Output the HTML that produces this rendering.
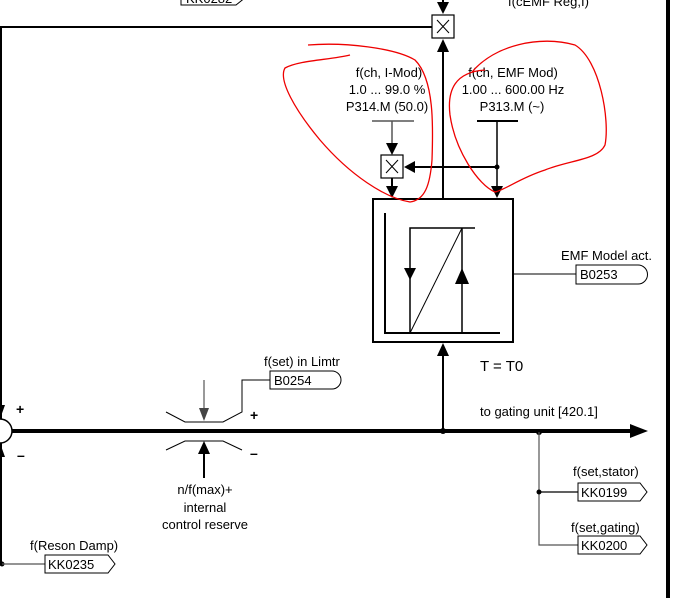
<!DOCTYPE html>
<html><head><meta charset="utf-8"><style>
html,body{margin:0;padding:0;background:#fff;width:694px;height:598px;overflow:hidden}
svg text{font-family:"Liberation Sans",Arial,sans-serif;fill:#000}
</style></head><body>
<svg width="694" height="598" viewBox="0 0 694 598" xmlns="http://www.w3.org/2000/svg">
<rect x="666" y="0" width="4" height="598" fill="#000"/>
<path d="M181,-8 V5 H236 L246,-3" fill="none" stroke="#000" stroke-width="1"/>
<text x="186" y="3" font-size="13">KK0282</text>
<text x="508" y="6" font-size="13">f(cEMF Reg,I)</text>
<line x1="443" y1="0" x2="443" y2="6" stroke="#000" stroke-width="2"/>
<path d="M437,2 L449,2 L443,14z" fill="#000"/>
<rect x="432" y="15" width="22" height="23" fill="#fff" stroke="#000" stroke-width="1.2"/>
<path d="M437,20 L449,33 M449,20 L437,33" stroke="#000" stroke-width="1"/>
<path d="M432,27 H1 V565" fill="none" stroke="#000" stroke-width="2"/>
<line x1="443" y1="198" x2="443" y2="50" stroke="#000" stroke-width="2"/>
<path d="M437,52 L449,52 L443,39z" fill="#000"/>
<g font-size="13" text-anchor="middle">
<text x="389" y="77">f(ch, I-Mod)</text>
<text x="387" y="94">1.0 ... 99.0 %</text>
<text x="387" y="111">P314.M (50.0)</text>
<text x="513" y="77">f(ch, EMF Mod)</text>
<text x="513" y="94">1.00 ... 600.00 Hz</text>
<text x="512" y="111">P313.M (~)</text>
</g>
<line x1="372" y1="121" x2="414" y2="121" stroke="#555" stroke-width="1.5"/>
<line x1="392" y1="121" x2="392" y2="145" stroke="#555" stroke-width="1.5"/>
<path d="M386,143 L398,143 L392,155z" fill="#000"/>
<rect x="381" y="155" width="22" height="23" fill="#fff" stroke="#000" stroke-width="1.2"/>
<path d="M386,160 L398,173 M398,160 L386,173" stroke="#000" stroke-width="1"/>
<line x1="392" y1="178" x2="392" y2="188" stroke="#000" stroke-width="2"/>
<path d="M386,186 L398,186 L392,198z" fill="#000"/>
<line x1="477" y1="121" x2="518" y2="121" stroke="#000" stroke-width="2"/>
<line x1="497" y1="121" x2="497" y2="188" stroke="#000" stroke-width="1.5"/>
<path d="M491,186 L503,186 L497,198z" fill="#000"/>
<line x1="497" y1="167" x2="414" y2="167" stroke="#000" stroke-width="2"/>
<path d="M415,161 L415,173 L404,167z" fill="#000"/>
<circle cx="497" cy="167" r="2.5" fill="#000"/>
<rect x="373" y="199" width="140" height="143" fill="#fff" stroke="#000" stroke-width="2"/>
<path d="M385,213 V333 H500" fill="none" stroke="#000" stroke-width="2"/>
<path d="M410,333 V228 H475" fill="none" stroke="#000" stroke-width="1.5"/>
<line x1="410" y1="333" x2="462" y2="228" stroke="#000" stroke-width="1"/>
<line x1="462" y1="228" x2="462" y2="333" stroke="#000" stroke-width="1.5"/>
<path d="M404,268 L416,268 L410,280z" fill="#000"/>
<path d="M455,284 L469,284 L462,268z" fill="#000"/>
<line x1="513" y1="274" x2="576" y2="274" stroke="#000" stroke-width="1"/>
<path d="M576,265 H638 A9,9 0 0 1 638,284 H576z" fill="#fff" stroke="#000" stroke-width="1"/>
<text x="580" y="279" font-size="13">B0253</text>
<text x="561" y="260" font-size="13">EMF Model act.</text>
<line x1="443" y1="432" x2="443" y2="354" stroke="#000" stroke-width="2"/>
<path d="M437,356 L449,356 L443,343z" fill="#000"/>
<text x="480" y="371" font-size="15">T = T0</text>
<line x1="12" y1="431" x2="632" y2="431" stroke="#000" stroke-width="4"/>
<path d="M630,424 L648,431 L630,438z" fill="#000"/>
<circle cx="443" cy="431" r="3" fill="#000"/>
<circle cx="0" cy="431" r="12" fill="#fff" stroke="#000" stroke-width="1.5"/>
<path d="M-5,405 L5,405 L0,419z" fill="#000"/>
<path d="M-5,457 L5,457 L0,443z" fill="#000"/>
<text x="16" y="414" font-size="14" font-weight="bold">+</text>
<text x="17" y="460" font-size="14" font-weight="bold">–</text>
<path d="M166,412 L185,422 H223 L242,412 V380 H270" fill="none" stroke="#000" stroke-width="1"/>
<path d="M166,450 L185,441 H223 L242,450" fill="none" stroke="#000" stroke-width="1"/>
<line x1="204" y1="380" x2="204" y2="410" stroke="#555" stroke-width="1.2"/>
<path d="M199,408 L209,408 L204,421z" fill="#444"/>
<line x1="204" y1="478" x2="204" y2="452" stroke="#000" stroke-width="2"/>
<path d="M198,454 L210,454 L204,441z" fill="#000"/>
<text x="250" y="420" font-size="14" font-weight="bold">+</text>
<text x="250" y="458" font-size="14" font-weight="bold">–</text>
<path d="M270,371 H332 A9,9 0 0 1 332,389 H270z" fill="#fff" stroke="#000" stroke-width="1"/>
<text x="274" y="385" font-size="13">B0254</text>
<text x="264" y="366" font-size="13">f(set) in Limtr</text>
<g font-size="13" text-anchor="middle">
<text x="205" y="494">n/f(max)+</text>
<text x="205" y="512">internal</text>
<text x="205" y="529">control reserve</text>
</g>
<text x="480" y="416" font-size="13">to gating unit [420.1]</text>
<circle cx="539" cy="432" r="3" fill="#000"/>
<path d="M539,432 V545 H578" fill="none" stroke="#555" stroke-width="1.2"/>
<line x1="539" y1="492" x2="578" y2="492" stroke="#000" stroke-width="1.2"/>
<circle cx="539" cy="492" r="2.5" fill="#000"/>
<path d="M578,483 H640 L647,492 L640,501 H578z" fill="#fff" stroke="#000" stroke-width="1"/>
<text x="581" y="497" font-size="13">KK0199</text>
<text x="573" y="476" font-size="13">f(set,stator)</text>
<path d="M578,536 H640 L647,545 L640,554 H578z" fill="#fff" stroke="#000" stroke-width="1"/>
<text x="581" y="550" font-size="13">KK0200</text>
<text x="571" y="532" font-size="13">f(set,gating)</text>
<circle cx="2" cy="564" r="2.5" fill="#000"/>
<line x1="2" y1="564" x2="45" y2="564" stroke="#555" stroke-width="1.2"/>
<path d="M45,555 H108 L115,564 L108,573 H45z" fill="#fff" stroke="#000" stroke-width="1"/>
<text x="48" y="569" font-size="13">KK0235</text>
<text x="30" y="550" font-size="13">f(Reson Damp)</text>
<path d="M308,45 C345,42 395,48 415,60 C435,80 433,130 432,160 C430,185 425,200 410,202 C385,198 350,175 320,140 C295,110 278,80 285,68 C300,60 330,60 350,55" fill="none" stroke="#e00" stroke-width="1.3"/>
<path d="M472,72 C495,45 540,35 575,45 C600,60 610,120 605,145 C598,160 570,160 545,170 C520,178 505,190 495,192 C478,185 455,150 450,115 C447,90 455,72 485,70" fill="none" stroke="#e00" stroke-width="1.3"/>
</svg>
</body></html>
